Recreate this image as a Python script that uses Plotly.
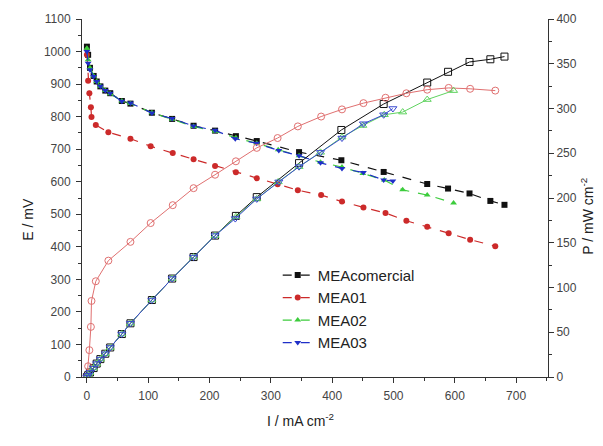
import plotly.graph_objects as go

# Current density (mA cm^-2), cell potential E (mV) and power density P (mW cm^-2)
i_com = [0, 2, 5, 11, 16, 22, 30, 38, 57, 71, 106, 139, 174, 209, 243, 277, 346, 415, 484, 555, 589, 624, 658, 681]
e_com = [1015, 990, 950, 925, 908, 893, 880, 872, 848, 840, 812, 793, 772, 757, 740, 725, 691, 666, 630, 593, 579, 564, 541, 529]
p_com = [0, 2, 5, 10, 15, 20, 26, 33, 48, 60, 86, 110, 134, 158, 180, 201, 239, 276, 305, 329, 341, 352, 355, 358]

i_01 = [0, 2, 4, 6.5, 7.5, 14.5, 35, 71, 104, 140, 174, 209, 243, 277, 311, 344, 382, 416, 451, 487, 521, 555, 590, 625, 666]
e_01 = [990, 910, 872, 829, 799, 774, 752, 732, 709, 688, 669, 648, 629, 611, 592, 574, 559, 539, 521, 504, 480, 462, 442, 422, 402]
p_01 = [0, 12, 30, 56, 85, 107, 130, 151, 172, 192, 211, 226, 241, 256, 267, 280, 291, 299, 306, 312, 317, 321, 323, 322, 320]

i_02 = [0, 2, 5, 11, 16, 22, 30, 38, 57, 71, 106, 139, 174, 209, 243, 277, 312, 346, 381, 416, 450, 485, 515, 555, 598]
e_02 = [1010, 975, 950, 925, 908, 893, 880, 870, 848, 840, 812, 792, 770, 755, 735, 718, 698, 680, 660, 645, 625, 605, 575, 559, 535]
p_02 = [0, 2, 5, 10, 15, 20, 26, 33, 48, 60, 86, 110, 134, 158, 179, 199, 218, 235, 251, 268, 281, 293, 296, 310, 320]

i_03 = [0, 2, 5, 11, 16, 22, 30, 38, 57, 71, 106, 139, 174, 209, 242, 277, 313, 346, 381, 416, 451, 484, 499]
e_03 = [1000, 964, 944, 923, 908, 893, 880, 872, 847, 842, 811, 794, 771, 758, 732, 718, 696, 680, 658, 641, 628, 605, 602]
p_03 = [0, 2, 5, 10, 15, 20, 26, 33, 48, 60, 86, 110, 134, 158, 177, 199, 218, 235, 251, 267, 283, 293, 300]

x_ticks = [0, 100, 200, 300, 400, 500, 600, 700]
e_ticks = list(range(0, 1101, 100))
p_ticks = list(range(0, 401, 50))

series = [
    ("MEAcomercial", i_com, e_com, p_com, "#111111", "#111111", "square", "square-open", "dash"),
    ("MEA01", i_01, e_01, p_01, "#cc2a2a", "#e07070", "circle", "circle-open", "dash"),
    ("MEA02", i_02, e_02, p_02, "#3ccc3c", "#5fd35f", "triangle-up", "triangle-up-open", "dash"),
    ("MEA03", i_03, e_03, p_03, "#1f2fc8", "#3a4ad0", "triangle-down", "triangle-down-open", "dash"),
]

fig = go.Figure()

# power density curves (open symbols, right axis)
for name, i, e, p, col, pcol, sym, osym, dash in series:
    fig.add_trace(go.Scatter(
        x=i, y=p, yaxis="y2", mode="lines+markers", showlegend=False, name=name + " P",
        line=dict(color=pcol, width=1),
        marker=dict(symbol=osym, size=7, color=pcol, line=dict(color=pcol, width=1)),
    ))

# polarisation curves (filled symbols, left axis)
for name, i, e, p, col, pcol, sym, osym, dash in series:
    fig.add_trace(go.Scatter(
        x=i, y=e, mode="lines+markers", name=name,
        line=dict(color=col, width=1.2, dash=dash),
        marker=dict(symbol=sym, size=6, color=col),
    ))

tick_font = dict(family="Liberation Sans, Arial, sans-serif", size=12, color="#444444")

fig.update_layout(
    width=603, height=446,
    margin=dict(l=82, r=55, t=16, b=69),
    paper_bgcolor="white", plot_bgcolor="white",
    font=dict(family="Liberation Sans, Arial, sans-serif", size=13, color="#222222"),
    xaxis=dict(
        range=[-8, 752], tickvals=x_ticks, ticks="outside", ticklen=5, tickcolor="#333",
        showline=True, linecolor="#333", linewidth=1, showgrid=False, zeroline=False,
        tickfont=tick_font, ticklabelstandoff=3,
        minor=dict(dtick=50, tick0=0, ticks="outside", ticklen=3, tickcolor="#333"),
    ),
    xaxis2=dict(
        range=[-8, 752], overlaying="x", side="top", anchor="y", tickvals=x_ticks,
        ticks="inside", ticklen=5, tickcolor="#333", showticklabels=False,
        showline=True, linecolor="#333", linewidth=1, showgrid=False, zeroline=False,
        minor=dict(dtick=50, tick0=0, ticks="inside", ticklen=3, tickcolor="#333"),
    ),
    yaxis=dict(
        range=[0, 1100], tickvals=e_ticks, ticks="outside", ticklen=5, tickcolor="#333",
        showline=True, linecolor="#333", linewidth=1, showgrid=False, zeroline=False,
        tickfont=tick_font, ticklabelstandoff=3,
        minor=dict(dtick=50, tick0=0, ticks="outside", ticklen=3, tickcolor="#333"),
    ),
    yaxis2=dict(
        range=[0, 400], tickvals=p_ticks, overlaying="y", side="right", anchor="x",
        ticks="outside", ticklen=5, tickcolor="#333",
        showline=True, linecolor="#333", linewidth=1, showgrid=False, zeroline=False,
        tickfont=tick_font,
        minor=dict(dtick=25, tick0=0, ticks="outside", ticklen=3, tickcolor="#333"),
    ),
    legend=dict(
        x=0.42, y=0.33, xanchor="left", yanchor="top",
        bgcolor="rgba(0,0,0,0)", font=dict(size=15, color="#222222"),
        tracegroupgap=0, itemwidth=30,
    ),
    annotations=[
        dict(text="E / mV", xref="paper", yref="paper", x=-0.137, y=0.44,
             textangle=-90, showarrow=False, font=dict(size=14)),
        dict(text="P / mW cm<sup>-2</sup>", xref="paper", yref="paper", x=1.107, y=0.45,
             textangle=-90, showarrow=False, font=dict(size=14)),
        dict(text="I / mA cm<sup>-2</sup>", xref="paper", yref="paper", x=0.468, y=-0.152,
             showarrow=False, font=dict(size=14)),
    ],
)

fig.write_html("out.html")
